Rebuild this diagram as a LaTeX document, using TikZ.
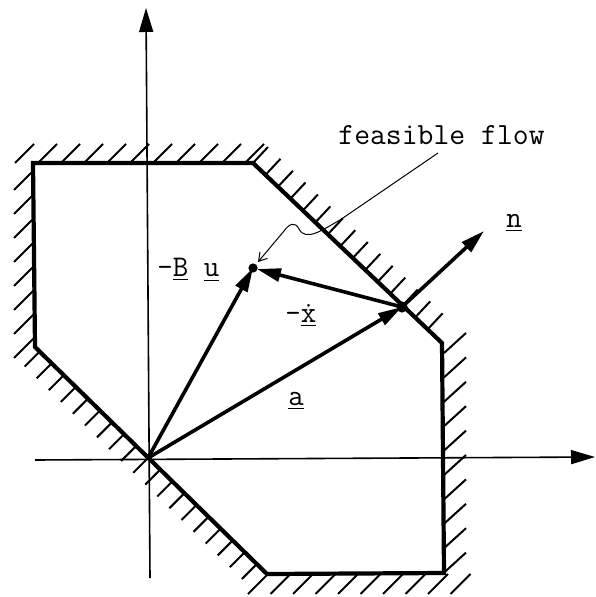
\documentclass[tikz,border=0pt]{standalone}
\usetikzlibrary{arrows.meta,calc}
\newcommand{\bvec}[1]{\underline{#1}}
\begin{document}
\begin{tikzpicture}[x=0.5pt,y=-0.5pt,
    axis/.style={line width=0.8pt, -{Triangle[length=12pt,width=7pt]}},
    region/.style={line width=2.1pt},
    hatch/.style={line width=1pt},
    vec/.style={line width=1.8pt, -{Triangle[length=12pt,width=6.5pt]}},
    lbl/.style={font=\fontsize{15}{17}\selectfont\ttfamily, inner sep=0pt},
    leader/.style={line width=0.5pt, -{Straight Barb[length=4pt,width=5pt]}},
]
\useasboundingbox (0,0) rectangle (595,597);
% Corners of the feasible region
\coordinate (c1) at (33,163);
\coordinate (c2) at (253,163);
\coordinate (c3) at (442,343);
\coordinate (c4) at (444,573);
\coordinate (c5) at (267,574);
\coordinate (c6) at (35,347);
% Points of the flow
\coordinate (O) at (148,458);
\coordinate (P) at (402,307);
\coordinate (Q) at (253,268);
\coordinate (ntip) at (484,231);
% Hatching outside the region
\foreach \x in {15,38,...,245} \draw[hatch] (\x,163) -- ++(19,-19);
\foreach \y in {170,194,...,340} \draw[hatch] (34,\y) -- ++(-20,20);
\foreach \t in {0,0.066,...,0.95} \draw[hatch] ($(c2)!\t!(c3)$) -- ++(15,-16);
\foreach \t in {0.02,0.072,...,1} \draw[hatch] ($(c6)!\t!(c5)$) -- ++(-15,15);
\foreach \y in {353,377.4,...,575} \draw[hatch] (444,\y) -- ++(22,-20);
\foreach \x in {268,290.5,...,472} \draw[hatch] (\x,574) -- ++(-20,20);
% Axes
\draw[axis] (150,578) -- (146,8);
\draw[axis] (35,460) -- (595,457);
% Region boundary
\draw[region] (c1) -- (c2) -- (c3) -- (c4) -- (c5) -- (c6) -- cycle;
% Vectors
\draw[vec] (O) -- (P);
\draw[vec] (O) -- (Q);
\draw[vec, shorten >=2pt] (P) -- (Q);
\draw[vec] (P) -- (ntip);
\fill (P) circle[radius=2.8pt];
\fill (Q) circle[radius=2.3pt];
% Labels
\node[lbl, font=\fontsize{15.4}{18}\selectfont\ttfamily, anchor=base west] (flowlbl) at (338,145) {feasible flow};
\node[lbl, anchor=base west] (Bulbl) at (157,277) {-\bvec{B} \bvec{u}};
\node[lbl, anchor=base west] (xlbl) at (285,323) {-\bvec{\.{x}}};
\node[lbl, anchor=base] (albl) at (296,405) {\bvec{a}};
\node[lbl, anchor=base] (nlbl) at (514,228) {\bvec{n}};
% Leader to the feasible flow
\coordinate (flowtail) at (438,153);
\draw[leader] (flowtail) -- (340,220) .. controls (322,230) and (306,242) .. (299,229)
    .. controls (295,221) and (289,224) .. (284,231) -- ($(Q)+(5,-6)$);
\end{tikzpicture}
\end{document}
